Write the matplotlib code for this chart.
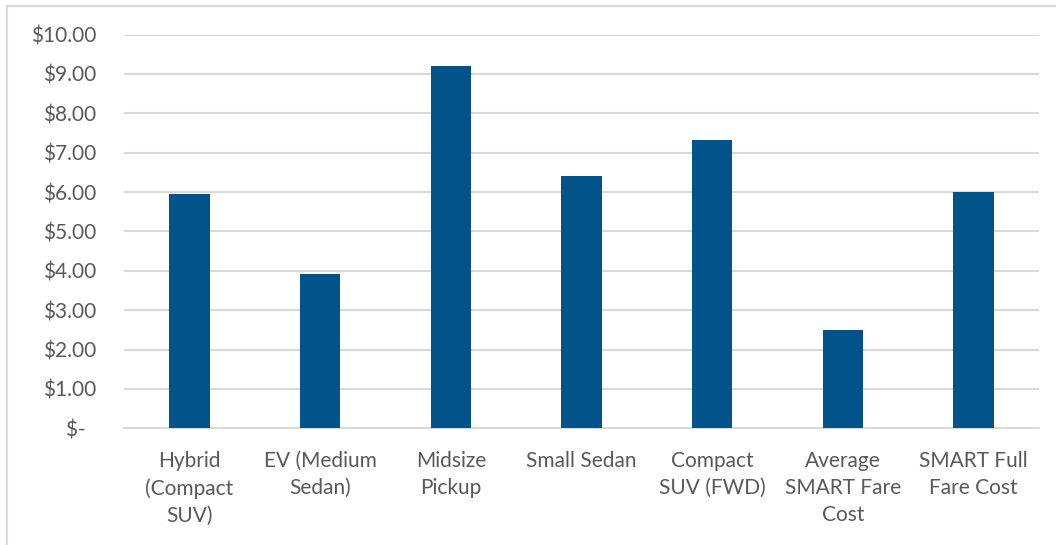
import matplotlib
matplotlib.use("Agg")
import matplotlib.pyplot as plt
from matplotlib.lines import Line2D

categories = [
    "Hybrid\n(Compact\nSUV)",
    "EV (Medium\nSedan)",
    "Midsize\nPickup",
    "Small Sedan",
    "Compact\nSUV (FWD)",
    "Average\nSMART Fare\nCost",
    "SMART Full\nFare Cost",
]
costs = [5.95, 3.92, 9.20, 6.41, 7.32, 2.50, 6.00]
y_ticks = [0, 1, 2, 3, 4, 5, 6, 7, 8, 9, 10]
y_tick_labels = ["$-  ", "$1.00", "$2.00", "$3.00", "$4.00", "$5.00",
                 "$6.00", "$7.00", "$8.00", "$9.00", "$10.00"]

bar_color = "#02538A"
grid_color = "#D9D9D9"
text_color = "#595959"

plt.rcParams["font.family"] = ["Lato", "DejaVu Sans"]

fig = plt.figure(figsize=(10.56, 5.45), dpi=100)
# chart frame: left and top edges
fig.lines.append(Line2D([0.0068, 0.0068], [0.0, 0.989], transform=fig.transFigure,
                        color=grid_color, linewidth=1.5))
fig.lines.append(Line2D([0.0068, 1.0], [0.989, 0.989], transform=fig.transFigure,
                        color=grid_color, linewidth=1.5))

ax = fig.add_axes([0.1174, 0.2141, 0.8665, 0.7224])
x = list(range(len(categories)))
ax.bar(x, costs, width=0.31, color=bar_color, zorder=3)

ax.set_xlim(-0.5, len(categories) - 0.5)
ax.set_ylim(0, 10)
ax.set_yticks(y_ticks)
ax.set_yticklabels(y_tick_labels)
ax.set_xticks(x)
ax.set_xticklabels(categories, linespacing=1.45)

ax.grid(axis="y", color=grid_color, linewidth=1.5, zorder=0)
for s in ["top", "right", "left"]:
    ax.spines[s].set_visible(False)
ax.spines["bottom"].set_color(grid_color)
ax.spines["bottom"].set_linewidth(1.5)

ax.tick_params(axis="both", length=0, labelsize=15, colors=text_color)
ax.tick_params(axis="x", pad=16)
ax.tick_params(axis="y", pad=20)

fig.savefig("out.png", dpi=100)
